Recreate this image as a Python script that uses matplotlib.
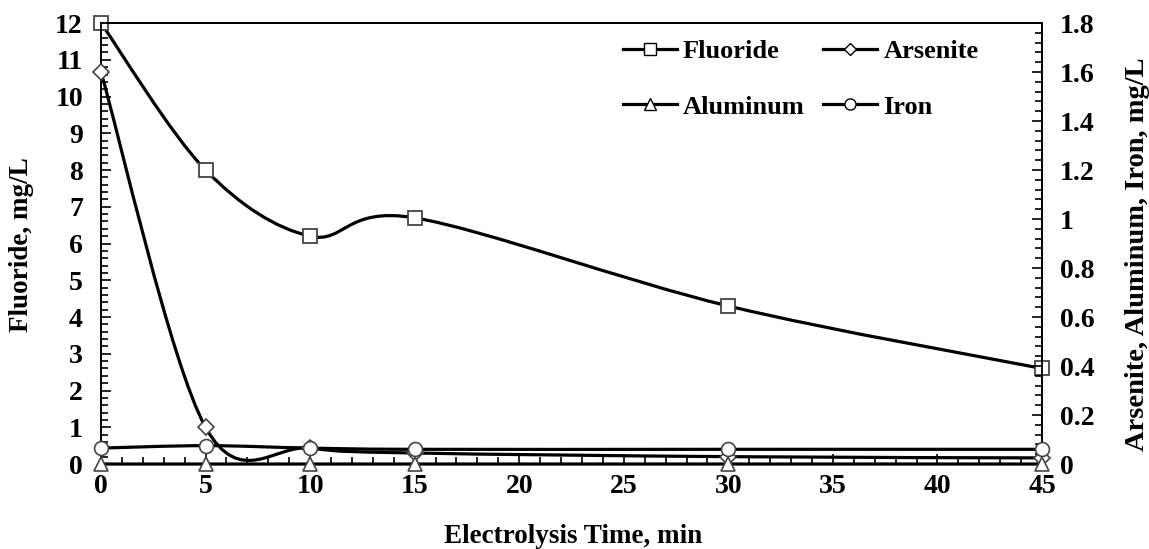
import matplotlib
matplotlib.use("Agg")
import matplotlib.pyplot as plt
from matplotlib.path import Path
from matplotlib.patches import PathPatch
from matplotlib.lines import Line2D
from matplotlib.ticker import MultipleLocator, FuncFormatter

plt.rcParams['font.family'] = ['Liberation Serif', 'DejaVu Serif']
plt.rcParams['font.weight'] = 'bold'

time_min = [0, 5, 10, 15, 30, 45]
fluoride = [12.0, 8.0, 6.2, 6.7, 4.3, 2.6]
arsenite = [1.6, 0.15, 0.065, 0.045, 0.03, 0.025]
aluminum = [0.0, 0.0, 0.0, 0.0, 0.0, 0.0]
iron = [0.065, 0.075, 0.065, 0.06, 0.06, 0.06]


def smooth_path(x, y):
    n = len(x)
    verts = [(x[0], y[0])]
    codes = [Path.MOVETO]
    for i in range(n - 1):
        p0 = (x[i - 1], y[i - 1]) if i > 0 else (x[i], y[i])
        p1 = (x[i], y[i])
        p2 = (x[i + 1], y[i + 1])
        p3 = (x[i + 2], y[i + 2]) if i + 2 < n else (x[i + 1], y[i + 1])
        c1 = (p1[0] + (p2[0] - p0[0]) / 6.0, p1[1] + (p2[1] - p0[1]) / 6.0)
        c2 = (p2[0] - (p3[0] - p1[0]) / 6.0, p2[1] - (p3[1] - p1[1]) / 6.0)
        verts += [c1, c2, p2]
        codes += [Path.CURVE4] * 3
    return Path(verts, codes)


fig = plt.figure(figsize=(11.49, 5.49), dpi=100)
ax = fig.add_axes([0.0879, 0.1548, 0.819, 0.8032])
ax2 = ax.twinx()

lw = 2.3
edge = '#444444'

ax.add_patch(PathPatch(smooth_path(time_min, fluoride), fill=False, lw=lw, color='black', zorder=2))
ax.plot(time_min, fluoride, ls='none', marker='s', ms=10, mfc='white', mec=edge, mew=1.3, zorder=3, clip_on=False)

ax2.add_patch(PathPatch(smooth_path(time_min, arsenite), fill=False, lw=lw, color='black', zorder=2))
ax2.add_patch(PathPatch(smooth_path(time_min, iron), fill=False, lw=lw, color='black', zorder=2))
ax2.add_patch(PathPatch(smooth_path(time_min, aluminum), fill=False, lw=lw, color='black', zorder=2, clip_on=False))
ax2.plot(time_min, arsenite, ls='none', marker='D', ms=8, mfc='white', mec=edge, mew=1.2, zorder=3, clip_on=False)
ax2.plot(time_min, aluminum, ls='none', marker='^', ms=10, mfc='white', mec=edge, mew=1.2, zorder=3, clip_on=False)
ax2.plot(time_min, iron, ls='none', marker='o', ms=10, mfc='white', mec=edge, mew=1.2, zorder=3, clip_on=False)

ax.set_xlim(0, 45)
ax.set_ylim(0, 12)
ax2.set_ylim(0, 1.8)

ax.xaxis.set_major_locator(MultipleLocator(5))
ax.xaxis.set_minor_locator(MultipleLocator(1))
ax.yaxis.set_major_locator(MultipleLocator(1))
ax.yaxis.set_minor_locator(MultipleLocator(0.2))
ax2.yaxis.set_major_locator(MultipleLocator(0.2))
ax2.yaxis.set_minor_locator(MultipleLocator(0.04))
ax2.yaxis.set_major_formatter(FuncFormatter(lambda v, p: ('%g' % round(v, 2))))

ax.tick_params(axis='both', which='both', direction='in', labelsize=20, width=1.2)
ax.tick_params(axis='both', which='major', length=7)
ax.tick_params(axis='both', which='minor', length=5)
ax.tick_params(axis='x', pad=7)
ax.tick_params(axis='y', pad=13)
ax2.tick_params(axis='y', which='both', direction='in', labelsize=20, width=1.2, pad=13)
ax2.tick_params(axis='y', which='major', length=7)
ax2.tick_params(axis='y', which='minor', length=5)

for a in (ax, ax2):
    for s in a.spines.values():
        s.set_linewidth(1.3)
        s.set_color('black')
    for lab in a.get_xticklabels() + a.get_yticklabels():
        lab.set_fontweight('bold')

ax.set_xlabel('Electrolysis Time, min', fontsize=19.5, fontweight='bold')
ax.set_ylabel('Fluoride, mg/L', fontsize=19.5, fontweight='bold')
ax2.set_ylabel('Arsenite, Aluminum, Iron, mg/L', fontsize=20.5, fontweight='bold')
for lab in (ax.xaxis.label, ax.yaxis.label, ax2.yaxis.label):
    lab.set_ha('center')
    lab.set_va('center')
    lab.set_rotation_mode('default')
ax.xaxis.set_label_coords(0.502, -0.164)
ax.yaxis.set_label_coords(-0.084, 0.498)
ax2.yaxis.set_label_coords(1.101, 0.475)

handles = [
    Line2D([], [], color='black', lw=2.3, marker='s', ms=9, mfc='white', mec='black', mew=1.0),
    Line2D([], [], color='black', lw=2.3, marker='^', ms=8, mfc='white', mec='black', mew=1.0),
    Line2D([], [], color='black', lw=2.3, marker='D', ms=6, mfc='white', mec='black', mew=1.0),
    Line2D([], [], color='black', lw=2.3, marker='o', ms=8, mfc='white', mec='black', mew=1.0),
]
labels = ['Fluoride', 'Aluminum', 'Arsenite', 'Iron']
fig.legend(handles, labels, ncol=2, frameon=False, loc='upper left',
           bbox_to_anchor=(0.542, 0.928), borderpad=0, borderaxespad=0,
           prop={'size': 19, 'weight': 'bold'},
           handlelength=2.05, handletextpad=0.23, columnspacing=0.7, labelspacing=1.22)

fig.savefig('out.png', dpi=100)
